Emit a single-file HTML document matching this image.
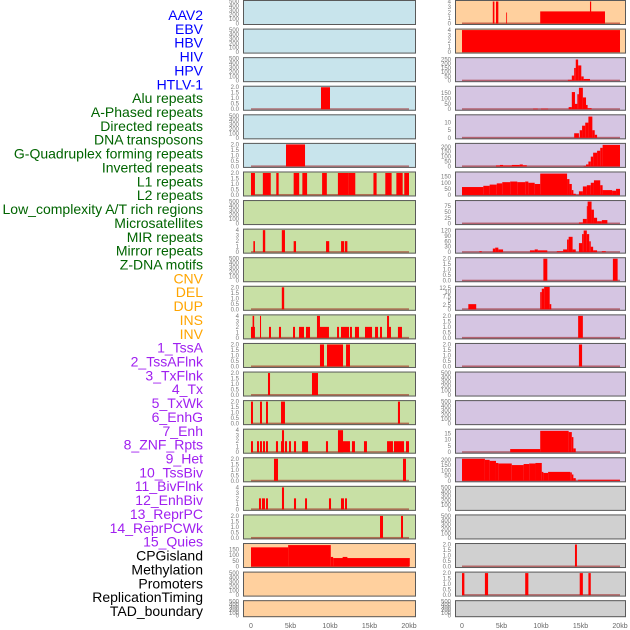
<!DOCTYPE html>
<html><head><meta charset="utf-8"><style>
html,body{margin:0;padding:0;background:#fff;width:630px;height:630px;overflow:hidden}
svg{display:block}
text{font-family:"Liberation Sans",sans-serif}
</style></head><body>
<svg id="chart" width="630" height="630" xmlns="http://www.w3.org/2000/svg"></svg>
<script>
// ---- data (kb start, kb end, value) ----
const trackLabels=["AAV2","EBV","HBV","HIV","HPV","HTLV-1","Alu repeats","A-Phased repeats","Directed repeats","DNA transposons","G-Quadruplex forming repeats","Inverted repeats","L1 repeats","L2 repeats","Low_complexity A/T rich regions","Microsatellites","MIR repeats","Mirror repeats","Z-DNA motifs","CNV","DEL","DUP","INS","INV","1_TssA","2_TssAFlnk","3_TxFlnk","4_Tx","5_TxWk","6_EnhG","7_Enh","8_ZNF_Rpts","9_Het","10_TssBiv","11_BivFlnk","12_EnhBiv","13_ReprPC","14_ReprPCWk","15_Quies","CPGisland","Methylation","Promoters","ReplicationTiming","TAD_boundary"];
const labelColors=["#0000ff","#0000ff","#0000ff","#0000ff","#0000ff","#0000ff","#006400","#006400","#006400","#006400","#006400","#006400","#006400","#006400","#006400","#006400","#006400","#006400","#006400","#ffa500","#ffa500","#ffa500","#ffa500","#ffa500","#a020f0","#a020f0","#a020f0","#a020f0","#a020f0","#a020f0","#a020f0","#a020f0","#a020f0","#a020f0","#a020f0","#a020f0","#a020f0","#a020f0","#a020f0","#000","#000","#000","#000","#000"];
const xTickValues=[0,5,10,15,20];
const xTickLabels=["0","5kb","10kb","15kb","20kb"];
const ticksEmpty=[0,100,200,300,400,500];
const ticks2=[0,0.5,1,1.5,2];
const ticks4=[0,1,2,3,4];

const L3=[[8.86,10.0,2]];
const L5=[[4.43,6.84,2]];
const L6=[[0,0.5,2],[1.5,2.5,2],[3.2,3.5,2],[5.4,6.1,2],[6.5,7.1,2],[9.0,9.6,2],[11.0,12.3,2],[12.3,13.2,2],[15.5,15.9,2],[17.0,17.8,2],[18.4,19.2,2],[19.4,20.0,2]];
const L8=[[0.3,0.5,2],[1.5,1.8,4],[3.9,4.3,4],[5.4,5.7,2],[9.5,9.9,2],[11.4,11.8,2],[11.9,12.2,2]];
const L10=[[3.9,4.2,2]];
const L11=[[0,0.5,2],[0.2,0.4,4],[1.14,1.27,4],[2.28,2.53,2],[3.54,3.8,2],[5.32,5.57,2],[6.08,6.71,2],[6.96,7.47,2],[8.35,8.73,4],[8.73,9.87,2],[10.89,11.14,2],[11.39,12.41,2],[12.53,12.78,2],[13.16,13.67,2],[14.43,15.32,2],[15.7,16.08,2],[16.33,16.58,2],[17.22,17.72,2],[17.22,17.47,4],[18.6,19.11,2]];
const L12=[[8.73,9.24,2],[9.62,11.65,2],[12.03,12.53,2]];
const L13=[[2.15,2.41,2],[7.72,8.48,2]];
const L14=[[0,0.25,2],[1.14,1.39,2],[1.9,2.15,2],[3.8,4.3,2],[18.6,18.86,2]];
const L15=[[0,0.25,2],[0.76,1.01,2],[1.14,1.39,2],[1.52,1.77,2],[1.9,2.15,2],[3.16,3.42,2],[3.8,4.18,2],[3.92,4.18,4],[4.3,4.56,2],[4.81,5.06,2],[5.44,5.7,2],[6.46,7.22,2],[9.49,9.75,2],[11.01,12.53,2],[11.01,11.65,4],[12.78,13.16,2],[14.3,14.68,2],[17.22,17.97,2],[18.1,19.37,2],[19.62,20,2]];
const L16=[[2.91,3.42,2],[19.24,19.62,2]];
const L17=[[1.01,1.27,2],[1.39,1.77,2],[1.9,2.15,2],[3.92,4.18,4],[5.44,5.7,2],[6.84,7.09,2],[9.87,10.13,2],[11.39,11.77,2],[11.9,12.15,2]];
const L18=[[16.33,16.71,2],[18.99,19.24,2]];
const L19=[[0,4.7,170],[4.7,10.1,190],[10.1,10.4,85],[10.4,20.1,75],[11.6,12.2,85]];

const R0=[[3.9,4.1,4],[4.3,4.6,4],[5.6,5.7,2],[9.9,18.1,2.2],[16.2,16.35,4]];
const R1=[[0,20,4]];
const R2=[[13.4,13.9,10],[13.9,14.2,60],[14.2,14.4,150],[14.4,14.7,250],[14.7,15.1,180],[15.1,15.4,50],[15.4,16.2,20]];
const R3=[[9.0,9.6,5],[10.0,10.9,5],[13.5,13.9,20],[13.9,14.3,160],[14.3,14.6,50],[14.6,14.8,140],[14.8,15.3,200],[15.3,15.7,110],[15.7,15.9,40],[15.9,16.4,10]];
const R4=[[14.2,14.8,3],[14.9,15.2,5],[15.2,15.6,8],[15.6,16.0,10],[16.0,16.5,14],[16.5,16.8,5],[16.8,17.1,2]];
const R5=[[4.3,4.8,10],[4.8,5.2,15],[5.2,6.3,10],[6.3,7.3,15],[7.3,7.7,20],[7.7,8.2,12],[15.4,15.7,5],[15.7,16.0,20],[16.0,16.3,50],[16.3,16.6,100],[16.6,17.1,140],[17.1,17.5,160],[17.5,17.8,190],[17.8,20,220]];
const R6=[[0,2.7,65],[2.7,3.5,75],[3.5,4.4,85],[4.4,5.1,95],[5.1,6.1,105],[6.1,7.0,110],[7.0,8.0,105],[8.0,8.4,110],[8.4,9.2,100],[9.2,9.9,90],[9.9,13.3,175],[13.3,13.6,130],[13.6,13.9,90],[13.9,14.1,40],[14.1,14.4,10],[14.8,15.3,30],[15.3,15.8,70],[15.8,16.3,80],[16.3,16.7,100],[16.7,17.5,120],[17.5,17.8,80],[17.8,19.0,40],[19.0,19.5,35],[19.5,20,50]];
const R7=[[14.8,15.3,5],[15.3,15.8,20],[15.8,15.9,75],[15.9,16.4,95],[16.4,16.7,60],[16.7,17.1,25],[17.1,17.7,10],[17.7,18.4,15]];
const R8=[[2.2,2.5,5],[3.9,4.2,20],[4.2,4.6,25],[4.6,5.2,15],[8.6,9.2,10],[9.2,9.6,15],[9.6,10.8,10],[12.0,12.8,5],[12.8,13.3,15],[13.3,13.5,70],[13.5,14.0,85],[14.0,14.4,15],[14.8,15.2,50],[15.2,15.4,100],[15.4,15.8,120],[15.8,16.1,100],[16.1,16.3,60],[16.3,16.6,30],[16.6,17.1,10],[17.7,18.2,5]];
const R9=[[10.3,10.8,2],[19.1,19.7,2]];
const R10=[[0.8,1.8,3],[9.9,10.1,10],[10.1,10.4,12],[10.4,11.1,13],[11.1,11.3,3]];
const R11=[[14.7,15.3,2]];
const R12=[[14.8,15.2,2]];
const R15=[[6.1,9.9,2.5],[9.9,13.5,17],[13.5,13.9,16],[13.9,14.1,12],[14.1,14.4,3]];
const R16=[[0,2.9,210],[2.9,3.5,200],[3.5,4.3,190],[4.3,4.6,170],[4.6,6.3,165],[6.3,7.8,150],[7.8,8.5,160],[8.5,9.3,165],[9.3,10.1,170],[10.1,10.3,85],[10.3,10.9,75],[10.9,13.7,85],[13.7,13.9,80],[13.9,14.1,60],[14.1,14.4,25],[14.7,20,10]];
const R19=[[14.3,14.55,2]];
const R20=[[0,0.3,2],[2.9,3.3,2],[8.0,8.4,2],[14.9,15.3,2],[16.0,16.3,2]];

// panel config: [column, row, background, yMax, ticks, bars]
const BLUE="#c8e4ec",GREEN="#c8e0a5",ORANGE="#ffd09e",PURPLE="#d5c5e2",GRAY="#d0d0d0";
const panels=[
[0,0,BLUE,500,ticksEmpty,null],[0,1,BLUE,500,ticksEmpty,null],[0,2,BLUE,500,ticksEmpty,null],
[0,3,BLUE,2,ticks2,L3],[0,4,BLUE,500,ticksEmpty,null],[0,5,BLUE,2,ticks2,L5],
[0,6,GREEN,2,ticks2,L6],[0,7,GREEN,500,ticksEmpty,null],[0,8,GREEN,4,ticks4,L8],
[0,9,GREEN,500,ticksEmpty,null],[0,10,GREEN,2,ticks2,L10],[0,11,GREEN,4,ticks4,L11],
[0,12,GREEN,2,ticks2,L12],[0,13,GREEN,2,ticks2,L13],[0,14,GREEN,2,ticks2,L14],
[0,15,GREEN,4,ticks4,L15],[0,16,GREEN,2,ticks2,L16],[0,17,GREEN,4,ticks4,L17],
[0,18,GREEN,2,ticks2,L18],[0,19,ORANGE,195,[0,50,100,150],L19],
[0,20,ORANGE,500,ticksEmpty,null],[0,21,ORANGE,500,ticksEmpty,null],
[1,0,ORANGE,4,ticks4,R0],[1,1,ORANGE,4,ticks4,R1],
[1,2,PURPLE,260,[0,50,100,150,200,250],R2],[1,3,PURPLE,205,[0,50,100,150],R3],
[1,4,PURPLE,14.5,[0,5,10],R4],[1,5,PURPLE,225,[0,50,100,150,200],R5],
[1,6,PURPLE,180,[0,50,100,150],R6],[1,7,PURPLE,95,[0,25,50,75],R7],
[1,8,PURPLE,122,[0,30,60,90,120],R8],[1,9,PURPLE,2,ticks2,R9],
[1,10,PURPLE,12.8,[0,2.5,5,7.5,10,12.5],R10],[1,11,PURPLE,2,ticks2,R11],
[1,12,PURPLE,2,ticks2,R12],[1,13,PURPLE,500,ticksEmpty,null],[1,14,PURPLE,500,ticksEmpty,null],
[1,15,PURPLE,17.5,[0,5,10,15],R15],[1,16,PURPLE,210,[0,50,100,150,200],R16],
[1,17,GRAY,500,ticksEmpty,null],[1,18,GRAY,500,ticksEmpty,null],
[1,19,GRAY,2,ticks2,R19],[1,20,GRAY,2,ticks2,R20],[1,21,GRAY,500,ticksEmpty,null]
];

const NS="http://www.w3.org/2000/svg";
const svg=document.getElementById('chart');
function mk(tag,attrs,parent){const e=document.createElementNS(NS,tag);for(const k in attrs)e.setAttribute(k,attrs[k]);(parent||svg).appendChild(e);return e;}
const colLeft=[243,455],colRight=[416,626],colOrigin=[251,462],kbPx=7.9;
function xScale(col,kb){return colOrigin[col]+kb*kbPx;}
function rowTop(r){return r*28.58;}
function rowH(r){return r===21?17:25;}

// labels
trackLabels.forEach((t,i)=>{
  const e=mk('text',{x:203,y:15+i*13.86+5,'text-anchor':'end','font-size':14,fill:labelColors[i]});
  e.textContent=t;
  
  
});

panels.forEach(p=>{
  const [col,row,bg,yMax,ticks,bars]=p;
  const top=rowTop(row),h=rowH(row);
  const g=mk('g',{});
  
  
  const x0=colLeft[col],x1=colRight[col];
  mk('rect',{x:x0,y:top,width:x1-x0,height:h,fill:bg},g);
  const yb=top+h-1.5,yt=top+1.5;
  const yS=v=>yb-(v/yMax)*(yb-yt);
  if(bars){
    mk('rect',{x:xScale(col,0),y:yb-1,width:20*kbPx,height:1.6,fill:'rgba(150,0,0,0.5)'},g);
    bars.forEach(b=>{
      const r=mk('rect',{x:xScale(col,b[0]),y:yS(b[2]),width:Math.max(0.8,(b[1]-b[0])*kbPx),height:yb-yS(b[2]),fill:'#ff0000'},g);
      
      
    });
  }
  mk('rect',{x:x0+0.5,y:top+0.5,width:x1-x0-1,height:h-1,fill:'none',stroke:'#5a5a5a','stroke-width':1},g);
  ticks.forEach(t=>{
    const e=mk('text',{x:x0-4,y:yS(t)+2,'text-anchor':'end','font-size':6,fill:'#777'},g);
    e.textContent=String(t===0.5||t===1.5||t===2.5||t===7.5||t===12.5?t:(yMax<=4&&ticks===ticks2?t.toFixed(1):t));
  });
});

// x axes
[0,1].forEach(col=>{
  xTickValues.forEach((v,i)=>{
    const e=mk('text',{x:xScale(col,v),y:628,'text-anchor':'middle','font-size':7,fill:'#666'});
    e.textContent=xTickLabels[i];
    
    
  });
});
</script>
</body></html>
